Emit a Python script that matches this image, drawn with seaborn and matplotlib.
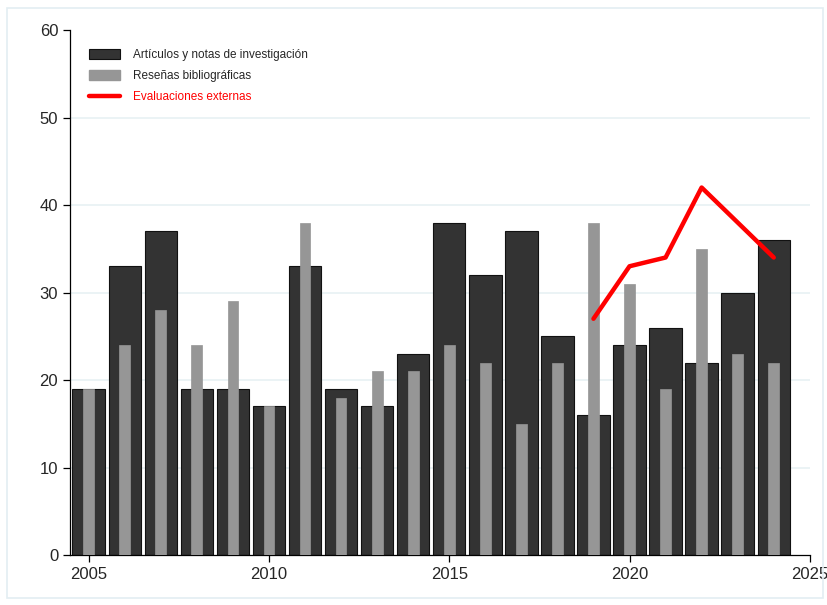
import matplotlib
matplotlib.use('Agg')
import matplotlib.pyplot as plt
import matplotlib.patches as mpatches
from matplotlib.lines import Line2D
import seaborn as sns
import pandas as pd

years = list(range(2005, 2025))
articulos = [19, 33, 37, 19, 19, 17, 33, 19, 17, 23, 38, 32, 37, 25, 16, 24, 26, 22, 30, 36]
resenas = [19, 24, 28, 24, 29, 17, 38, 18, 21, 21, 24, 22, 15, 22, 38, 31, 19, 35, 23, 22]
eval_years = [2019, 2020, 2021, 2022, 2023, 2024]
evaluaciones = [27, 33, 34, 42, 38, 34]

sns.set_style('white')
plt.rcParams['font.family'] = ['Liberation Sans', 'DejaVu Sans']

df = pd.DataFrame({'Año': years, 'Artículos': articulos, 'Reseñas': resenas})
df_eval = pd.DataFrame({'Año': eval_years, 'Evaluaciones': evaluaciones})

fig = plt.figure(figsize=(8.28, 6.05), dpi=100)
ax = fig.add_axes([0.0845, 0.0826, 0.8935, 0.8678])

# outer frame
fig.patches.append(mpatches.Rectangle((0.009, 0.012), 0.985, 0.975, transform=fig.transFigure,
                                      fill=False, edgecolor='#e3eef2', linewidth=1.2))

sns.barplot(data=df, x='Año', y='Artículos', native_scale=True, width=0.9,
            color='#333333', edgecolor='#111111', linewidth=0.8, saturation=1, ax=ax, zorder=2)
sns.barplot(data=df, x='Año', y='Reseñas', native_scale=True, width=0.3,
            color='#969696', edgecolor='#969696', linewidth=0.5, saturation=1, ax=ax, zorder=3)
sns.lineplot(data=df_eval, x='Año', y='Evaluaciones', color='#ff0000', linewidth=3.2,
             ax=ax, zorder=4)

ax.set_xlim(2004.48, 2025)
ax.set_ylim(0, 60)
ax.set_xticks([2005, 2010, 2015, 2020, 2025])
ax.set_yticks([0, 10, 20, 30, 40, 50, 60])
ax.set_xlabel('')
ax.set_ylabel('')
for y in [10, 20, 30, 40, 50]:
    ax.axhline(y, color='#e8f1f4', linewidth=1.2, zorder=1)

ax.spines['top'].set_visible(False)
ax.spines['right'].set_visible(False)
ax.spines['left'].set_color('black')
ax.spines['bottom'].set_color('black')
ax.spines['left'].set_linewidth(0.9)
ax.spines['bottom'].set_linewidth(0.9)
ax.tick_params(axis='both', direction='out', length=5, width=0.9, labelsize=12,
               left=True, bottom=True, color='black')

handles = [mpatches.Patch(facecolor='#333333', edgecolor='#111111', linewidth=0.8),
           mpatches.Patch(facecolor='#969696', edgecolor='#969696'),
           Line2D([0], [0], color='#ff0000', linewidth=3.2)]
labels = ['Artículos y notas de investigación', 'Reseñas bibliográficas', 'Evaluaciones externas']
leg = ax.legend(handles, labels, loc='upper left', bbox_to_anchor=(0.012, 0.985), frameon=False,
                fontsize=8.5, handlelength=2.55, handleheight=1.0, handletextpad=1.1, labelspacing=0.75)
leg.get_texts()[2].set_color('#ff0000')

fig.savefig('out.png', dpi=100)
